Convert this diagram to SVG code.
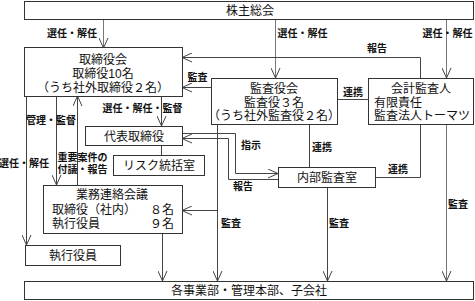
<svg xmlns="http://www.w3.org/2000/svg" width="475" height="301" viewBox="0 0 475 301">
<style>
.box{fill:#fff;stroke:#333;stroke-width:1}
.t{font-family:"Liberation Sans","Noto Sans CJK JP",sans-serif;font-size:12px;fill:#111}
.m{text-anchor:middle}
.lb{font-family:"Liberation Sans","Noto Sans CJK JP",sans-serif;font-size:10px;font-weight:700;fill:#111;text-anchor:middle}
.c{fill:none;stroke:#444;stroke-width:1}
.g{stroke:#777}
.a{marker-end:url(#arr)}
</style>
<defs>
<marker id="arr" markerUnits="userSpaceOnUse" viewBox="0 0 10 10" refX="10" refY="5" markerWidth="10" markerHeight="10" orient="auto">
<path d="M0,0.5 L10,5 L0,9.5" fill="none" stroke="#444" stroke-width="1"/>
</marker>
</defs>
<rect width="475" height="301" fill="#fff"/>

<g id="connectors">
<path class="c g a" d="M103.5,19 V48"/>
<path class="c g a" d="M275.5,19 V78"/>
<path class="c g a" d="M446.5,19 V78"/>
<path class="c a" d="M420.5,78 V57.5 H182"/>
<path class="c a" d="M211,87.5 H182"/>
<path class="c" d="M337,99.5 H368"/>
<path class="c a" d="M161.5,96 V126"/>
<path class="c" d="M161.5,145 V155"/>
<path class="c a" d="M26.5,96 V245"/>
<path class="c a" d="M56.5,96 V185"/>
<path class="c a" d="M77.5,185 V96"/>
<path class="c a" d="M182,133.5 H235.5 V173.5 H278"/>
<path class="c a" d="M278,179.5 H228.5 V138.5 H182"/>
<path class="c a" d="M217.5,124 V281"/>
<path class="c a" d="M217.5,210.5 H182"/>
<path class="c" d="M309.5,124 V167"/>
<path class="c" d="M420.5,124 V177.5 H375"/>
<path class="c a" d="M327.5,187 V281"/>
<path class="c a" d="M162.5,233 V281"/>
<path class="c g a" d="M446.5,124 V281"/>
</g>

<g id="shareholders"><rect class="box" x="24.5" y="1.5" width="449" height="18"/><text class="t m" x="250" y="14.5">株主総会</text></g>
<g id="board"><rect class="box" x="24.5" y="47.5" width="158" height="49"/>
<text class="t m" x="103" y="63.5">取締役会<tspan x="103" dy="14">取締役10名</tspan><tspan x="103" dy="14">（うち社外取締役２名）</tspan></text></g>
<g id="auditboard"><rect class="box" x="211.5" y="78.5" width="126" height="46"/>
<text class="t m" x="274" y="92.5">監査役会<tspan x="274" dy="14">監査役３名</tspan><tspan x="274" dy="13.5">（うち社外監査役２名）</tspan></text></g>
<g id="accountant"><rect class="box" x="368.5" y="78.5" width="105" height="46"/>
<text class="t" x="391" y="92.5">会計監査人<tspan x="374" dy="14">有限責任</tspan><tspan x="374" dy="13.5">監査法人トーマツ</tspan></text></g>
<g id="ceo"><rect class="box" x="85.5" y="126.5" width="97" height="19"/><text class="t m" x="134" y="140.5">代表取締役</text></g>
<g id="risk"><rect class="box" x="113.5" y="155.5" width="91" height="20"/><text class="t m" x="159" y="170">リスク統括室</text></g>
<g id="internalaudit"><rect class="box" x="278.5" y="167.5" width="97" height="20"/><text class="t m" x="327" y="182">内部監査室</text></g>
<g id="execmeeting"><rect class="box" x="43.5" y="185.5" width="139" height="48"/>
<text class="t" x="76" y="198.5">業務連絡会議<tspan x="52" dy="15">取締役（社内）</tspan><tspan x="150">８名</tspan><tspan x="52" dy="14">執行役員</tspan><tspan x="150">９名</tspan></text></g>
<g id="officers"><rect class="box" x="25.5" y="245.5" width="95" height="20"/><text class="t m" x="73" y="260">執行役員</text></g>
<g id="divisions"><rect class="box" x="24.5" y="281.5" width="449" height="18"/><text class="t m" x="249" y="295">各事業部・管理本部、子会社</text></g>

<g id="labels">
<text class="lb" x="72" y="37">選任・解任</text>
<text class="lb" x="302.5" y="37">選任・解任</text>
<text class="lb" x="447.5" y="37">選任・解任</text>
<text class="lb" x="377" y="52">報告</text>
<text class="lb" x="197.5" y="81">監査</text>
<text class="lb" x="353" y="96">連携</text>
<text class="lb" x="142.5" y="112">選任・解任・監督</text>
<text class="lb" x="51" y="124">管理・監督</text>
<text class="lb" x="24" y="167">選任・解任</text>
<text class="lb" x="82.5" y="161">重要案件の<tspan x="82.5" dy="12">付議・報告</tspan></text>
<text class="lb" x="251" y="149">指示</text>
<text class="lb" x="243" y="190">報告</text>
<text class="lb" x="322" y="151">連携</text>
<text class="lb" x="398" y="173">連携</text>
<text class="lb" x="231" y="227">監査</text>
<text class="lb" x="339" y="227">監査</text>
<text class="lb" x="458" y="208">監査</text>
</g>
</svg>
